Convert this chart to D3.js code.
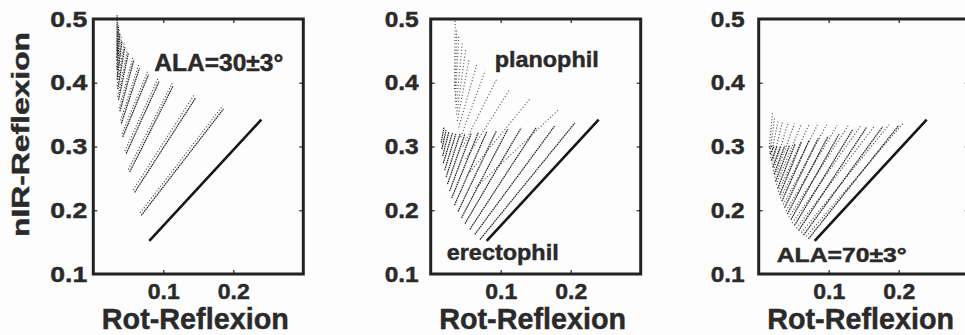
<!DOCTYPE html>
<html>
<head>
<meta charset="utf-8">
<script src="https://cdn.jsdelivr.net/npm/d3@7"></script>
<style>
  html, body { margin: 0; padding: 0; background: #fdfdfd; }
  svg { display: block; font-family: "Liberation Sans", Arial, sans-serif; font-weight: bold; }
  svg text { stroke: #2a2a2a; stroke-width: 0.45px; }
</style>
</head>
<body>
<div id="chart"></div>
<script>
// axis ticks
const xTicks = [0.1, 0.2];
const yTicks = [0.1, 0.2, 0.3, 0.4, 0.5];

// soil line (red, nir) start -> end, same in every panel
const soilLine = [0.080, 0.152, 0.240, 0.342];

// panel 1, ALA = 30 +- 3 : [red0, nir0, red1, nir1]
const ala30Dense = [
  [0.0686, 0.192, 0.186, 0.359],
  [0.059, 0.228, 0.146, 0.376],
  [0.052, 0.260, 0.114, 0.395],
  [0.047, 0.289, 0.094, 0.402],
  [0.042, 0.315, 0.079, 0.413],
  [0.040, 0.336, 0.066, 0.423],
  [0.038, 0.355, 0.058, 0.436],
  [0.036, 0.373, 0.050, 0.446],
  [0.035, 0.390, 0.045, 0.456],
  [0.034, 0.405, 0.041, 0.466],
  [0.034, 0.420, 0.038, 0.478],
  [0.034, 0.435, 0.036, 0.490],
  [0.034, 0.450, 0.034, 0.506]
];
const ala30Sparse = [
  [0.067, 0.196, 0.185, 0.364],
  [0.057, 0.232, 0.144, 0.381],
  [0.050, 0.264, 0.113, 0.400],
  [0.045, 0.293, 0.093, 0.408],
  [0.041, 0.320, 0.078, 0.419],
  [0.039, 0.341, 0.065, 0.429],
  [0.037, 0.360, 0.057, 0.442],
  [0.035, 0.378, 0.049, 0.452],
  [0.034, 0.395, 0.044, 0.462],
  [0.034, 0.410, 0.040, 0.472],
  [0.033, 0.425, 0.037, 0.484],
  [0.033, 0.440, 0.035, 0.496]
];

// panel 2, planophil (dotted) and erectophil (solid)
const planoLines = [
  [0.064, 0.235, 0.182, 0.357],
  [0.056, 0.260, 0.142, 0.375],
  [0.050, 0.280, 0.113, 0.390],
  [0.046, 0.300, 0.094, 0.405],
  [0.043, 0.315, 0.078, 0.419],
  [0.040, 0.330, 0.066, 0.429],
  [0.038, 0.340, 0.055, 0.437],
  [0.037, 0.350, 0.050, 0.452],
  [0.036, 0.360, 0.045, 0.462],
  [0.035, 0.370, 0.040, 0.472],
  [0.035, 0.380, 0.037, 0.485],
  [0.034, 0.390, 0.035, 0.500]
];
const erectoLines = [
  [0.0704, 0.154, 0.206, 0.337],
  [0.063, 0.162, 0.177, 0.332],
  [0.056, 0.170, 0.151, 0.330],
  [0.049, 0.179, 0.129, 0.329],
  [0.044, 0.188, 0.110, 0.327],
  [0.039, 0.198, 0.094, 0.325],
  [0.034, 0.208, 0.080, 0.323],
  [0.030, 0.219, 0.068, 0.322],
  [0.027, 0.230, 0.058, 0.321],
  [0.024, 0.241, 0.049, 0.320],
  [0.022, 0.252, 0.042, 0.320],
  [0.020, 0.263, 0.036, 0.320],
  [0.018, 0.274, 0.031, 0.321],
  [0.017, 0.285, 0.026, 0.323],
  [0.016, 0.296, 0.022, 0.326],
  [0.015, 0.306, 0.019, 0.330]
];

// panel 3, ALA = 70 +- 3
const ala70Dense = [
  [0.071, 0.155, 0.200, 0.333],
  [0.064, 0.161, 0.177, 0.331],
  [0.057, 0.168, 0.154, 0.330],
  [0.051, 0.176, 0.134, 0.326],
  [0.046, 0.185, 0.115, 0.320],
  [0.041, 0.194, 0.099, 0.316],
  [0.037, 0.204, 0.085, 0.313],
  [0.033, 0.214, 0.072, 0.310],
  [0.030, 0.224, 0.061, 0.307],
  [0.027, 0.234, 0.052, 0.304],
  [0.024, 0.245, 0.044, 0.302],
  [0.022, 0.256, 0.037, 0.301],
  [0.020, 0.267, 0.031, 0.300],
  [0.018, 0.278, 0.026, 0.300],
  [0.016, 0.288, 0.022, 0.300],
  [0.015, 0.297, 0.019, 0.301]
];
const ala70Sparse = [
  [0.068, 0.159, 0.206, 0.336],
  [0.061, 0.165, 0.186, 0.334],
  [0.054, 0.172, 0.166, 0.333],
  [0.048, 0.180, 0.146, 0.333],
  [0.043, 0.189, 0.128, 0.333],
  [0.039, 0.199, 0.112, 0.333],
  [0.035, 0.209, 0.097, 0.334],
  [0.031, 0.219, 0.084, 0.334],
  [0.028, 0.229, 0.072, 0.335],
  [0.025, 0.240, 0.061, 0.335],
  [0.023, 0.251, 0.051, 0.336],
  [0.021, 0.262, 0.042, 0.337],
  [0.019, 0.272, 0.034, 0.339],
  [0.017, 0.282, 0.028, 0.342],
  [0.016, 0.291, 0.023, 0.347],
  [0.015, 0.299, 0.020, 0.355]
];

const xTitle = 'Rot-Reflexion';
const yTitle = 'nIR-Reflexion';

const W = 965, H = 335;
const pw = 210, ph = 255, topY = 19;
const ink = '#2a2a2a';

const svg = d3.select('#chart').append('svg')
  .attr('width', W).attr('height', H);

const x = d3.scaleLinear().domain([0, 0.3]).range([0, pw]);
const y = d3.scaleLinear().domain([0.1, 0.5]).range([ph, 0]);

const dense = { stroke: '#222', width: 1.2, dash: '1.6,0.7' };
const sparse = { stroke: '#444', width: 1.1, dash: '1.1,1.9' };

const panels = [
  { left: 93.3, labPad: 6, labLen: 37,
    sets: [
      Object.assign({ data: ala30Sparse }, sparse),
      Object.assign({ data: ala30Dense }, dense)
    ],
    notes: [{ text: 'ALA=30±3°', x: 61, y: 52, size: 24, len: 129 }] },
  { left: 430.7, labPad: 12, labLen: 34,
    sets: [
      { data: planoLines, stroke: '#555', width: 1.1, dash: '1.1,2.1' },
      Object.assign({ data: erectoLines }, dense)
    ],
    notes: [
      { text: 'planophil', x: 64, y: 48, size: 22, len: 104 },
      { text: 'erectophil', x: 16, y: 241, size: 22, len: 112 }
    ] },
  { left: 758.7, labPad: 14, labLen: 34,
    sets: [
      Object.assign({ data: ala70Sparse }, sparse),
      Object.assign({ data: ala70Dense }, dense)
    ],
    notes: [{ text: 'ALA=70±3°', x: 18, y: 243, size: 21, len: 130 }] }
];

panels.forEach(p => {
  const g = svg.append('g').attr('transform', `translate(${p.left},${topY})`);

  // isolines
  p.sets.forEach(s => {
    g.append('g').selectAll('line')
      .data(s.data)
      .enter()
      .append('line')
      .attr('x1', d => x(d[0]))
      .attr('y1', d => y(d[1]))
      .attr('x2', d => x(d[2]))
      .attr('y2', d => y(d[3]))
      .attr('stroke', s.stroke)
      .attr('stroke-width', s.width)
      .attr('stroke-dasharray', s.dash);
  });

  // soil line
  g.append('line')
    .attr('x1', x(soilLine[0])).attr('y1', y(soilLine[1]))
    .attr('x2', x(soilLine[2])).attr('y2', y(soilLine[3]))
    .attr('stroke', '#151515')
    .attr('stroke-width', 2.6);

  // inward ticks on all sides
  const inner = [0.2, 0.3, 0.4];
  g.append('g').attr('transform', `translate(0,${ph})`)
    .call(d3.axisBottom(x).tickValues(xTicks).tickSize(-4).tickPadding(9).tickFormat(d3.format('.1f')))
    .call(a => a.select('.domain').remove())
    .call(a => a.selectAll('text')
      .attr('font-size', 22).attr('font-weight', 'bold').attr('fill', ink)
      .attr('font-family', '"Liberation Sans", Arial, sans-serif')
      .attr('textLength', 32).attr('lengthAdjust', 'spacingAndGlyphs'));
  g.append('g')
    .call(d3.axisTop(x).tickValues(xTicks).tickSize(-4).tickFormat(''))
    .call(a => a.select('.domain').remove());
  g.append('g')
    .call(d3.axisLeft(y).tickValues(yTicks).tickSize(0).tickPadding(p.labPad).tickFormat(d3.format('.1f')))
    .call(a => a.select('.domain').remove())
    .call(a => a.selectAll('text')
      .attr('font-size', 22).attr('font-weight', 'bold').attr('fill', ink)
      .attr('font-family', '"Liberation Sans", Arial, sans-serif')
      .attr('textLength', p.labLen).attr('lengthAdjust', 'spacingAndGlyphs'));
  g.append('g')
    .call(d3.axisLeft(y).tickValues(inner).tickSize(-4).tickFormat(''))
    .call(a => a.select('.domain').remove());
  g.append('g').attr('transform', `translate(${pw},0)`)
    .call(d3.axisRight(y).tickValues(inner).tickSize(-4).tickFormat(''))
    .call(a => a.select('.domain').remove());
  g.selectAll('.tick line').attr('stroke', '#333').attr('stroke-width', 1.3);

  // frame
  g.append('rect')
    .attr('x', 0).attr('y', 0)
    .attr('width', pw).attr('height', ph)
    .attr('fill', 'none')
    .attr('stroke', '#222')
    .attr('stroke-width', 3);

  // annotations
  p.notes.forEach(n => {
    g.append('text')
      .attr('x', n.x).attr('y', n.y)
      .attr('font-size', n.size)
      .attr('fill', ink)
      .attr('textLength', n.len)
      .attr('lengthAdjust', 'spacingAndGlyphs')
      .text(n.text);
  });

  // x title
  svg.append('text')
    .attr('x', p.left + pw / 2 - 3)
    .attr('y', 328.5)
    .attr('text-anchor', 'middle')
    .attr('font-size', 30)
    .attr('fill', ink)
    .attr('textLength', 187)
    .attr('lengthAdjust', 'spacingAndGlyphs')
    .text(xTitle);
});

// y title, first panel only
svg.append('text')
  .attr('transform', 'translate(29,134.5) rotate(-90)')
  .attr('text-anchor', 'middle')
  .attr('font-size', 24)
  .attr('fill', ink)
  .attr('textLength', 205)
  .attr('lengthAdjust', 'spacingAndGlyphs')
  .text(yTitle);
</script>
</body>
</html>
